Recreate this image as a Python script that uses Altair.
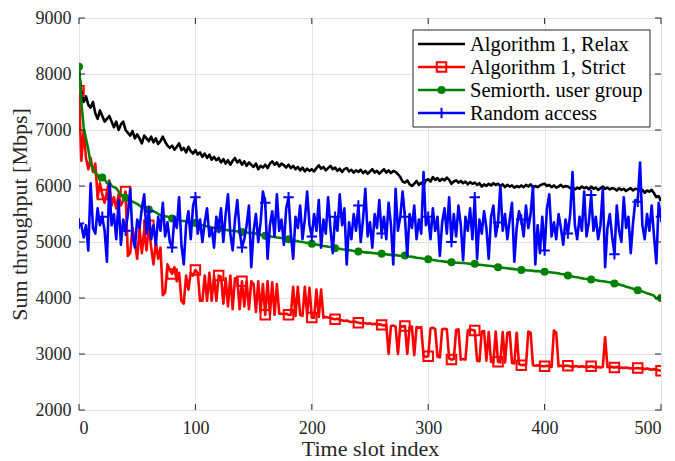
import altair as alt
import pandas as pd

SERIES = ["Algorithm 1, Relax", "Algorithm 1, Strict", "Semiorth. user group", "Random access"]
COLORS = ["#000000", "#ff0000", "#008000", "#0000ff"]
SLOTS = list(range(0, 501, 2))
X_TICKS = [0, 100, 200, 300, 400, 500]
Y_TICKS = [2000, 3000, 4000, 5000, 6000, 7000, 8000, 9000]

RELAX = [
    8050, 7700, 7500, 7600, 7450, 7400, 7500, 7300, 7200, 7350,
    7250, 7150, 7200, 7250, 7150, 7050, 7150, 7000, 7100, 7150,
    7000, 6950, 6900, 6980, 6850, 6920, 6850, 6760, 6900, 6850,
    6800, 6880, 6780, 6850, 6750, 6800, 6880, 6790, 6720, 6680,
    6720, 6650, 6700, 6760, 6640, 6680, 6600, 6700, 6620, 6580,
    6640, 6560, 6600, 6520, 6580, 6500, 6560, 6470, 6520, 6460,
    6500, 6420, 6480, 6400, 6460, 6380, 6450, 6500, 6420, 6460,
    6380, 6440, 6360, 6420, 6380, 6340, 6400, 6300, 6360, 6330,
    6380, 6320, 6400, 6440, 6380, 6420, 6350, 6400, 6370, 6330,
    6380, 6320, 6360, 6300, 6340, 6280, 6330, 6260, 6310, 6270,
    6300, 6260, 6320, 6370, 6310, 6340, 6280, 6320, 6360, 6300,
    6330, 6270, 6310, 6250, 6300, 6320, 6260, 6290, 6240, 6280,
    6250, 6290, 6230, 6270, 6220, 6260, 6300, 6240, 6270, 6220,
    6260, 6300, 6240, 6280, 6230, 6270, 6250, 6210, 6160, 6080,
    6060, 6100, 6030, 6000, 6040, 6090, 6020, 6060, 6010, 6100,
    6120, 6080, 6160, 6110, 6140, 6090, 6130, 6100, 6150, 6110,
    6040, 6080, 6100, 6060, 6090, 6050, 6080, 6030, 6070, 6040,
    6060, 6020, 6050, 5990, 6030, 6000, 6040, 6010, 6050, 6020,
    6040, 6000, 6030, 5980, 6020, 5990, 6010, 5970, 6000, 5980,
    6010, 5980, 6020, 5990, 6030, 5970, 6000, 5980, 6010, 6030,
    6040, 6000, 6020, 5980, 6010, 5970, 5990, 6020, 5980, 6000,
    5990, 5960, 5980, 5940, 5970, 5950, 5990, 5960, 5980, 5940,
    5990, 5950, 5970, 5930, 5960, 5990, 5950, 5970, 5940, 5960,
    5950, 5920, 5960, 5930, 5950, 5910, 5940, 5960, 5920, 5950,
    5940, 5910, 5930, 5880, 5920, 5900, 5930, 5870, 5800, 5820,
    5730,
]

STRICT = [
    7700, 6450, 7000, 6500, 6300, 6500, 6250, 6400, 5800, 6050,
    5850, 5700, 5900, 6100, 5650, 5800, 5600, 5850, 5650, 5750,
    5900, 4750, 4800, 5250, 5000, 4700, 5250, 4800, 5200, 4850,
    5300, 4900, 4600, 5000, 4700, 4900, 4050, 4100, 4600, 4500,
    4430, 4550, 4300, 4450, 3950, 3900, 4400, 4150, 4450, 4400,
    4500, 4450, 3950, 3950, 4400, 3950, 4450, 3950, 4400, 3950,
    4400, 4380, 3900, 4350, 3850, 4400, 3800, 4350, 4350, 3800,
    4300, 3850, 4300, 3800, 4300, 4250, 3750, 4300, 3750, 4250,
    3700, 4300, 3700, 4280, 3700, 4250, 3720, 3720, 3710, 3720,
    3700, 3700, 4200, 3680, 4200, 3700, 3680, 4200, 3700, 4180,
    3650, 3650, 4150, 3660, 4150, 3650, 3660, 3650, 3640, 3630,
    3620, 3630, 3610, 3600, 3590, 3600, 3580, 3570, 3580, 3570,
    3560, 3550, 3560, 3550, 3540, 3550, 3530, 3540, 3520, 3530,
    3520, 3510, 3520, 3000, 3500, 3510, 3490, 3000, 3500, 3490,
    3500, 3000, 3480, 3490, 2980, 3480, 3470, 3480, 2960, 2950,
    2960, 3460, 3470, 3450, 2950, 2940, 3440, 3450, 3440, 2920,
    2900, 2910, 3430, 3440, 2900, 2910, 2900, 3420, 3440, 3430,
    3420, 2880, 2870, 3400, 3410, 2880, 3390, 2860, 2850, 3400,
    2860, 2850, 3390, 2850, 3380, 3390, 2840, 2830, 3380, 2820,
    2800, 2810, 2800, 3400, 3380, 2800, 2790, 2800, 2790, 2780,
    2780, 2790, 2780, 2770, 3420, 3380, 2780, 2790, 2780, 2790,
    2790, 2780, 2770, 2780, 2780, 2770, 2780, 2770, 2780, 2770,
    2780, 2770, 2760, 2770, 2760, 2770, 3300, 2770, 2760, 2770,
    2760, 2770, 2750, 2760, 2750, 2760, 2750, 2740, 2750, 2740,
    2750, 2740, 2750, 2730, 2740, 2730, 2720, 2730, 2720, 2710,
    2700,
]

SEMIORTH = [
    8130, 7500, 7050, 6850, 6650, 6400, 6300, 6230, 6200, 6100,
    6150, 6120, 6050, 6080, 6000, 5980, 5960, 5900, 5850, 5820,
    5790, 5760, 5740, 5720, 5700, 5680, 5650, 5620, 5600, 5580,
    5580, 5560, 5550, 5530, 5500, 5480, 5470, 5460, 5450, 5435,
    5420, 5410, 5400, 5390, 5380, 5375, 5370, 5360, 5350, 5340,
    5340, 5320, 5310, 5300, 5290, 5280, 5270, 5260, 5255, 5250,
    5240, 5230, 5225, 5220, 5210, 5200, 5205, 5195, 5190, 5185,
    5180, 5175, 5170, 5165, 5160, 5160, 5150, 5140, 5130, 5120,
    5110, 5105, 5100, 5095, 5090, 5080, 5075, 5070, 5060, 5050,
    5050, 5040, 5030, 5020, 5015, 5005, 5000, 4990, 4985, 4975,
    4970, 4960, 4955, 4945, 4940, 4930, 4925, 4915, 4910, 4900,
    4890, 4885, 4880, 4870, 4865, 4860, 4855, 4850, 4840, 4835,
    4830, 4825, 4820, 4815, 4810, 4810, 4805, 4800, 4795, 4790,
    4790, 4785, 4780, 4775, 4770, 4770, 4765, 4760, 4755, 4750,
    4760, 4745, 4740, 4735, 4730, 4720, 4715, 4710, 4700, 4695,
    4690, 4685, 4680, 4675, 4665, 4660, 4655, 4650, 4645, 4640,
    4640, 4635, 4630, 4630, 4625, 4630, 4620, 4615, 4610, 4610,
    4610, 4600, 4595, 4590, 4585, 4580, 4575, 4570, 4565, 4560,
    4550, 4545, 4540, 4535, 4530, 4525, 4520, 4515, 4510, 4505,
    4500, 4500, 4495, 4490, 4490, 4485, 4480, 4480, 4475, 4470,
    4470, 4465, 4460, 4455, 4450, 4445, 4440, 4430, 4425, 4415,
    4400, 4395, 4385, 4375, 4370, 4360, 4355, 4345, 4340, 4335,
    4330, 4325, 4320, 4310, 4305, 4300, 4295, 4285, 4280, 4270,
    4260, 4250, 4240, 4230, 4220, 4200, 4190, 4180, 4165, 4150,
    4140, 4130, 4115, 4100, 4085, 4070, 4060, 4040, 3990, 4010,
    4000,
]

RANDOM = [
    5330, 5300, 5080, 5300, 4850, 6050, 5250, 5150, 5600, 5300,
    5450, 5200, 4650, 6050, 5300, 5500, 5050, 5750, 4950, 5400,
    5200, 5500, 5950, 5100, 4900, 5400, 5250, 5600, 5850, 5150,
    5550, 5050, 5300, 4950, 5450, 5200, 5700, 5100, 5350, 5000,
    4900, 5450, 5250, 5800, 4950, 4600, 5300, 5550, 5050, 5650,
    5800, 5150, 5400, 5000, 5350, 5600, 5100, 5250, 4900, 5450,
    5250, 5600, 5000, 5500, 5850, 5150, 4850, 5400, 5750, 5200,
    4900, 5050, 5300, 5650, 4550, 5200, 5500, 5000, 5350, 5900,
    5700, 4700, 5300, 5550, 5100, 5850, 5200, 5400, 4950, 5600,
    5800, 5150, 4700, 5450, 5250, 5650, 5050, 5400, 5900, 5300,
    5100, 5500, 5200, 5750, 4900, 5400, 5150, 5800, 5250, 4800,
    5450, 5200, 5850, 5300, 5600, 4600, 5350, 5050, 5500, 5200,
    5650, 5000, 5400, 5950, 5100, 5350, 4900, 5500, 5250, 5750,
    5150, 5450, 5050, 5700, 5300, 4600, 5950, 5200, 5450, 5900,
    5450, 4750, 5500, 5250, 5650, 5050, 5400, 5150, 6250, 5300,
    5450, 5050, 5600, 5200, 5450, 4750, 5350, 5600, 5150, 5800,
    5000, 5500, 5100, 5650, 5300, 4680, 5450, 5200, 5600, 5050,
    5800, 4700, 5400, 5150, 5550, 5250, 4700, 5450, 5650, 5100,
    5350, 6000, 5200, 5500, 5050, 5400, 5700, 4650, 5250, 5550,
    5400, 5100, 5650, 5250, 5500, 6000, 4600, 5300, 4800, 5450,
    4850, 5600, 5850, 5100, 5350, 5050, 5500, 5250, 4950, 5400,
    5150, 5500, 6250, 5300, 5050, 5450, 5200, 5900, 5100, 5350,
    5840, 5200, 5450, 5050, 5300, 5950, 4550, 5250, 5500, 5100,
    4780, 5650, 5200, 5000, 5800, 5250, 5450, 4800, 5350, 5750,
    5720, 6420, 5300, 5050, 5500, 5200, 5650, 5100, 4620, 5700,
    5450,
]

for _name, _vals in zip(SERIES, [RELAX, STRICT, SEMIORTH, RANDOM]):
    assert len(_vals) == len(SLOTS), (_name, len(_vals))

rows = []
for name, vals in zip(SERIES, [RELAX, STRICT, SEMIORTH, RANDOM]):
    for s, v in zip(SLOTS, vals):
        rows.append({"series": name, "slot": s, "value": v})
df = pd.DataFrame(rows)

W, H = 582, 392
FONT = "Liberation Serif"
AX = "#262626"

xs = alt.Scale(domain=[0, 500], nice=False, zero=False)
ys = alt.Scale(domain=[2000, 9000], nice=False, zero=False)
cs = alt.Scale(domain=SERIES, range=COLORS)

x_axis = alt.Axis(values=X_TICKS, format="d", title="Time slot index", grid=True,
                  gridColor="#e3e3e3", domain=False, ticks=False,
                  labelFont=FONT, labelFontSize=18, labelColor=AX, labelPadding=9,
                  titleFont=FONT, titleFontSize=22, titleFontWeight="normal",
                  titleColor=AX, titleBaseline="alphabetic", titleY=45)
y_axis = alt.Axis(values=Y_TICKS, format="d", title="Sum throughput [Mbps]", grid=True,
                  gridColor="#e3e3e3", domain=False, ticks=False,
                  labelFont=FONT, labelFontSize=18, labelColor=AX, labelPadding=8,
                  titleFont=FONT, titleFontSize=22, titleFontWeight="normal",
                  titleColor=AX, titleBaseline="alphabetic", titleX=-53)

base = alt.Chart(df)
X = alt.X("slot:Q", scale=xs, axis=x_axis)
Y = alt.Y("value:Q", scale=ys, axis=y_axis)
C = alt.Color("series:N", scale=cs, legend=None)


def line(name):
    return base.transform_filter(alt.datum.series == name).mark_line(
        strokeWidth=2.6, strokeJoin="round", clip=True).encode(x=X, y=Y, color=C)


def markers(name, **kw):
    return base.transform_filter(
        f"datum.series == '{name}' && datum.slot % 20 == 0").mark_point(
        opacity=1, clip=True, **kw).encode(x=X, y=Y, color=C)


PLUS = "M-1,0H1M0,-1V1"
MARK_STYLE = {
    SERIES[1]: dict(shape="square", size=90, filled=False, strokeWidth=2),
    SERIES[2]: dict(shape="circle", size=64, filled=True),
    SERIES[3]: dict(shape=PLUS, size=110, filled=False, strokeWidth=2),
}

layers = [
    line(SERIES[0]),
    line(SERIES[1]),
    markers(SERIES[1], **MARK_STYLE[SERIES[1]]),
    line(SERIES[2]),
    markers(SERIES[2], **MARK_STYLE[SERIES[2]]),
    line(SERIES[3]),
    markers(SERIES[3], **MARK_STYLE[SERIES[3]]),
]

# inward ticks on all four sides (same fields/axes as the data, so axes merge)
xt = pd.DataFrame({"slot": X_TICKS})
yt = pd.DataFrame({"value": Y_TICKS})
TL = 6
layers += [
    alt.Chart(xt).mark_rule(color=AX, strokeWidth=1).encode(x=X, y=alt.value(H), y2=alt.value(H - TL)),
    alt.Chart(xt).mark_rule(color=AX, strokeWidth=1).encode(x=X, y=alt.value(0), y2=alt.value(TL)),
    alt.Chart(yt).mark_rule(color=AX, strokeWidth=1).encode(y=Y, x=alt.value(0), x2=alt.value(TL)),
    alt.Chart(yt).mark_rule(color=AX, strokeWidth=1).encode(y=Y, x=alt.value(W), x2=alt.value(W - TL)),
]

# legend box, drawn inside the plot (top right)
leg_df = pd.DataFrame({"series": SERIES, "row": [0, 1, 2, 3]})
LX0, LX1, LY0, LY1 = 334, 571, 12, 109
ROW0, ROWH = 26, 23
SYM0, SYM1, TXT = 339, 386, 391
layers.append(
    alt.Chart(leg_df).transform_filter("datum.row == 0").mark_rect(
        fill="white", stroke=AX, strokeWidth=1).encode(
        x=alt.value(LX0), x2=alt.value(LX1), y=alt.value(LY0), y2=alt.value(LY1))
)
for i, name in enumerate(SERIES):
    yv = ROW0 + ROWH * i
    sub = alt.Chart(leg_df).transform_filter(f"datum.row == {i}")
    layers.append(sub.mark_rule(strokeWidth=2.6).encode(
        x=alt.value(SYM0), x2=alt.value(SYM1), y=alt.value(yv), color=C))
    if name in MARK_STYLE:
        layers.append(sub.mark_point(opacity=1, **MARK_STYLE[name]).encode(
            x=alt.value((SYM0 + SYM1) / 2), y=alt.value(yv), color=C))
    layers.append(sub.mark_text(align="left", baseline="middle", font=FONT,
                                fontSize=20.5, color="#000000").encode(
        x=alt.value(TXT), y=alt.value(yv + 1), text="series:N"))

chart = alt.layer(*layers).properties(
    width=W, height=H,
    background="white",
    autosize=alt.AutoSizeParams(type="none"),
    padding={"left": 71, "top": 10, "right": 6, "bottom": 51},
).configure_view(stroke=AX, strokeWidth=1)

chart.save("out.html", embed_options={"renderer": "svg", "actions": False})
